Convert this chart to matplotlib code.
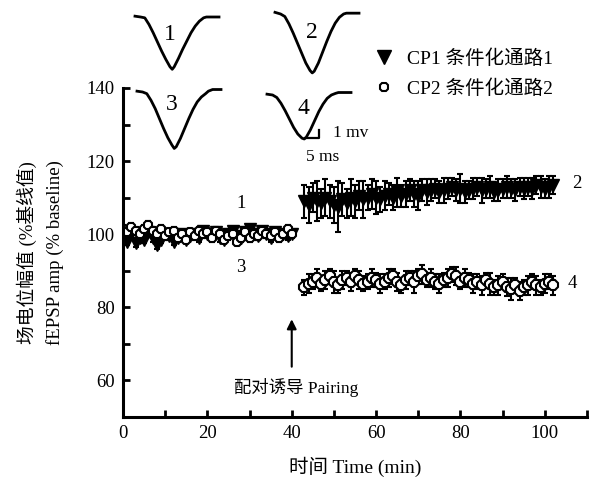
import numpy as np
import matplotlib
matplotlib.use("Agg")
import matplotlib.pyplot as plt
from matplotlib.lines import Line2D

plt.rcParams['font.family'] = ['Liberation Serif', 'Noto Sans CJK SC']

# --- DATA ---
t_base = list(range(0, 41))          # min, before pairing
t_post = list(range(43, 103))        # min, after pairing

cp1_base = [99.5, 98, 100, 97.5, 99, 98.5, 100.5, 99, 97, 98.5,
            100, 99.5, 98, 99, 100, 98.5, 99.5, 100, 99, 101,
            100, 99.5, 100.5, 99, 98.5, 100, 101, 99.5, 99, 100.5,
            101.5, 100, 99.5, 101, 100, 99, 100.5, 99.5, 100, 99.5, 100]
cp2_base = [101.5, 100.5, 102, 101, 100, 101.5, 102.5, 101, 100, 101.5,
            99.5, 100.5, 101, 99, 100, 98.5, 100.5, 99.5, 101, 100,
            100.5, 99, 101, 100, 98.5, 99.5, 100, 98, 99, 100.5,
            99, 100, 99.5, 101, 100, 99.5, 100.5, 99, 100, 101.5, 100]
base_sem = [1.0] * 41

cp1_post = [109, 108, 110, 109, 108.5, 110, 109, 108, 107.5, 109.5,
            108.5, 110, 109, 110.5, 109.5, 110, 111, 110, 109.5, 110.5,
            111, 110, 111.5, 110.5, 111, 112, 111, 110.5, 112, 111.5,
            112, 112.5, 111.5, 112, 112.5, 113, 112, 112.5, 111.5, 112,
            112.5, 113, 112, 112.5, 113, 111.5, 112, 112.5, 113, 112.5,
            112, 113, 112.5, 113, 112.5, 113.5, 113, 112.5, 113, 113.5]
cp1_post_sem = [4.5, 5, 4, 5.5, 4, 5, 4.5, 5, 7, 4.5,
                4, 5, 4.5, 4, 5, 3.5, 4, 4.5, 3.5, 4,
                3, 3.5, 4, 3, 3.5, 3, 3.5, 4, 3, 3.5,
                3, 2.5, 3, 3.5, 3, 2.5, 3, 4, 3, 2.5,
                3, 2.5, 3.5, 2.5, 3, 2.5, 3, 2.5, 3, 2.5,
                3, 2.5, 3, 2.5, 3, 2.5, 3, 2.5, 3, 2.5]
cp2_post = [85.5, 86.5, 87, 88, 86.5, 87.5, 88.5, 87, 86, 87.5,
            88, 87, 88.5, 87.5, 86.5, 87, 88, 87.5, 86.5, 87,
            88, 88.5, 87, 86, 87.5, 88, 87, 88.5, 89, 87.5,
            88, 87, 86.5, 87.5, 88, 89, 88.5, 87, 88, 87.5,
            86.5, 87, 86, 87.5, 86.5, 85.5, 86, 87, 85.5, 85,
            86, 84.5, 85.5, 86, 87, 86, 85.5, 86.5, 87, 86]
cp2_post_sem = [2, 2.5, 2, 2.5, 2, 2.5, 2, 3, 2, 2.5,
                2, 2.5, 2, 2.5, 2, 2, 2.5, 2, 2.5, 2,
                2.5, 2, 2.5, 2, 2.5, 2, 3, 2, 2.5, 2,
                2.5, 2, 2.5, 2, 2.5, 2, 2.5, 2, 2.5, 2,
                2.5, 2, 2.5, 2, 3, 2, 2.5, 2, 2.5, 3,
                2, 2.5, 2, 2.5, 2, 2.5, 2, 2.5, 2, 2.5]

# example fEPSP traces (ms, mV below baseline)
trace_t = [0, 2, 3.5, 5, 6.5, 8, 9.5, 11, 12.5, 13.3, 14, 15.5, 17, 18.5,
           20, 21.5, 23, 24.5, 25.5, 27, 30]
trace_1 = [0.1, 0, -0.1, -0.9, -1.9, -3.0, -4.1, -5.1, -6.0, -6.3, -6.0, -5.0,
           -3.9, -2.9, -1.9, -1.1, -0.5, -0.1, 0, 0, 0]
trace_2 = [0.2, 0, -0.3, -1.2, -2.3, -3.5, -4.7, -5.9, -6.8, -7.1, -6.9, -5.9,
           -4.6, -3.3, -2.1, -1.1, -0.4, 0, 0.1, 0.1, 0.1]
trace_3 = [0.1, 0, -0.2, -1.0, -2.0, -3.2, -4.4, -5.5, -6.4, -6.8, -6.6, -5.6,
           -4.4, -3.2, -2.1, -1.2, -0.6, -0.2, 0.1, 0.3, 0.3]
trace_4 = [0.1, 0, -0.3, -1.0, -1.9, -2.9, -3.9, -4.7, -5.2, -5.3, -5.1, -4.2,
           -3.1, -2.0, -1.1, -0.4, 0, 0.2, 0.3, 0.3, 0.3]
trace_labels = ['1', '2', '3', '4']

fig = plt.figure(figsize=(5.9, 4.84), dpi=100)
ax = fig.add_axes([123 / 590, 67 / 484, 464 / 590, 329 / 484])

err_kw = dict(capsize=2.5, elinewidth=1.5, capthick=1.5, color='black', linestyle='none')
ax.errorbar(t_base, cp1_base, yerr=base_sem, marker='v', markersize=8,
            markerfacecolor='black', markeredgecolor='black', **err_kw)
ax.errorbar(t_post, cp1_post, yerr=cp1_post_sem, marker='v', markersize=8.5,
            markerfacecolor='black', markeredgecolor='black', **err_kw)
ax.errorbar(t_base, cp2_base, yerr=base_sem, marker='8', markersize=7,
            markerfacecolor='white', markeredgecolor='black', markeredgewidth=1.5, **err_kw)
ax.errorbar(t_post, cp2_post, yerr=cp2_post_sem, marker='8', markersize=7.5,
            markerfacecolor='white', markeredgecolor='black', markeredgewidth=1.5, **err_kw)

ax.set_xlim(0, 110)
ax.set_ylim(50, 140)
ax.set_xticks(range(0, 111, 10))
ax.set_xticklabels(['0', '', '20', '', '40', '', '60', '', '80', '', '100', ''])
ax.set_yticks(range(50, 141, 10))
ax.set_yticklabels(['', '60', '', '80', '', '100', '', '120', '', '140'])
ax.tick_params(direction='in', length=5, width=2, labelsize=13.5, pad=6)
for side in ['top', 'right']:
    ax.spines[side].set_visible(False)
for side in ['left', 'bottom']:
    ax.spines[side].set_linewidth(2.2)

ax.set_xlabel('时间 Time (min)', fontsize=14, labelpad=10)
ax.set_ylabel('场电位幅值 (%基线值)\nfEPSP amp (% baseline)', fontsize=13.5, labelpad=16,
              linespacing=1.7)

# pairing arrow
ax.annotate('', xy=(40, 77.5), xytext=(40, 63),
            arrowprops=dict(arrowstyle='-|>', color='black', lw=1.5, mutation_scale=14))
ax.text(41, 58, '配对诱导 Pairing', fontsize=12.5, ha='center', va='center')

# trace markers on the time course
ax.text(28, 108.5, '1', fontsize=13.5, ha='center', va='center')
ax.text(28, 91, '3', fontsize=13.5, ha='center', va='center')
ax.text(107.5, 114, '2', fontsize=13.5, ha='center', va='center')
ax.text(106.5, 86.5, '4', fontsize=13.5, ha='center', va='center')

# legend
handles = [Line2D([], [], marker='v', color='black', linestyle='none', markersize=10),
           Line2D([], [], marker='8', color='black', markerfacecolor='white',
                  linestyle='none', markersize=6.5, markeredgewidth=1.5)]
ax.legend(handles, ['CP1 条件化通路1', 'CP2 条件化通路2'], loc='upper left',
          bbox_to_anchor=(355 / 590, 1 - 32 / 484), bbox_transform=fig.transFigure,
          frameon=False, fontsize=14, handletextpad=0.6, labelspacing=0.6,
          handlelength=1.2)

# insets with example traces, overlay in pixel units
ov = fig.add_axes([0, 0, 1, 1], facecolor='none')
ov.set_xlim(0, 590)
ov.set_ylim(484, 0)
ov.axis('off')
px_ms, px_mv = 2.8, 8.3
origins = [(135, 17), (275, 14), (137, 92), (267, 95)]
traces = [trace_1, trace_2, trace_3, trace_4]
label_pos = [(170, 35), (312, 33), (172, 105), (303, 108)]
for (x0, y0), tr, lab, (lx, ly) in zip(origins, traces, trace_labels, label_pos):
    xs = [x0 + t * px_ms for t in trace_t]
    ys = [y0 - v * px_mv for v in tr]
    ov.plot(xs, ys, color='black', lw=2)
    ov.text(lx, ly, lab, fontsize=17, ha='center', va='center')

# scale bar: 5 ms x 1 mV
sx, sy = 319, 138
ov.plot([sx - 5 * px_ms, sx, sx], [sy, sy, sy - 1 * px_mv], color='black', lw=1.6)
ov.text(333, 133, '1 mv', fontsize=12.5, ha='left', va='center')
ov.text(323, 157, '5 ms', fontsize=12.5, ha='center', va='center')

fig.savefig('out.png', dpi=100)
